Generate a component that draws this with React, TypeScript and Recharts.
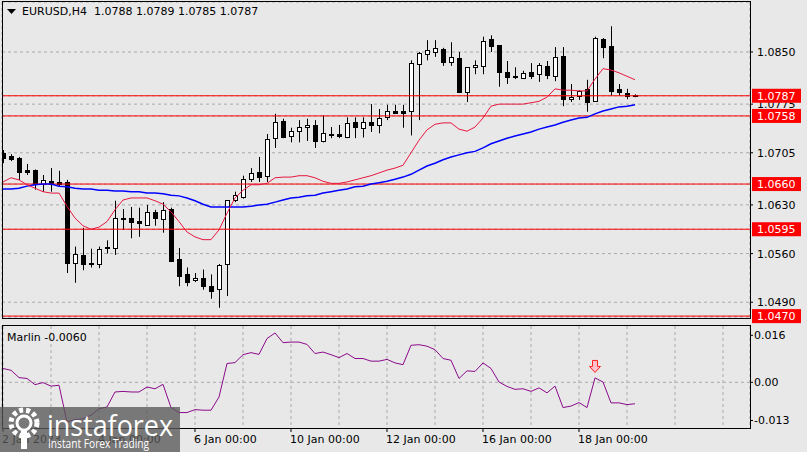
import React from 'react';
import { ComposedChart, Bar, Line, Scatter, XAxis, YAxis, CartesianGrid, ReferenceLine } from 'recharts';

// EURUSD H4, 2 Jan 00:00 .. 19 Jan 04:00 (80 bars)
const opens = [
  1.0705, 1.07, 1.0697, 1.068, 1.068, 1.066, 1.0664, 1.0663, 1.0663, 1.0546,
  1.0558, 1.0546, 1.0545, 1.0568, 1.0568, 1.0611, 1.0611, 1.0607, 1.0601, 1.062,
  1.061, 1.0624, 1.0552, 1.053, 1.0522, 1.0525, 1.0513, 1.0509, 1.0545, 1.0637,
  1.0641, 1.0667, 1.0677, 1.0672, 1.0726, 1.0751, 1.0729, 1.0736, 1.0742, 1.0745,
  1.0722, 1.0731, 1.0732, 1.0727, 1.0749, 1.0741, 1.0749, 1.0745, 1.0756, 1.0765,
  1.0765, 1.0765, 1.0833, 1.0847, 1.085, 1.0854, 1.0836, 1.0841, 1.0792, 1.0828,
  1.083, 1.0869, 1.086, 1.0821, 1.0815, 1.0813, 1.0821, 1.0818, 1.083, 1.0815,
  1.0844, 1.0782, 1.0787, 1.0797, 1.0779, 1.0869, 1.0859, 1.0797, 1.0791, 1.0788,
];
const highs = [
  1.0709, 1.0703, 1.0699, 1.0689, 1.0681, 1.0673, 1.0683, 1.0679, 1.0666, 1.057,
  1.0597, 1.0567, 1.057, 1.0579, 1.0636, 1.0624, 1.0627, 1.0626, 1.063, 1.0623,
  1.0634, 1.0626, 1.0568, 1.054, 1.0532, 1.0537, 1.053, 1.0545, 1.0637, 1.0649,
  1.0672, 1.0683, 1.0699, 1.0732, 1.0761, 1.0754, 1.0741, 1.0752, 1.0754, 1.0752,
  1.0759, 1.0742, 1.0745, 1.0756, 1.0756, 1.0756, 1.0775, 1.0768, 1.0774, 1.0774,
  1.0774, 1.0838, 1.085, 1.0867, 1.0867, 1.0856, 1.0864, 1.085, 1.0828, 1.0838,
  1.0872, 1.0874, 1.086, 1.0837, 1.0828, 1.0823, 1.0834, 1.0834, 1.0837, 1.0857,
  1.0857, 1.0804, 1.0795, 1.081, 1.0872, 1.087, 1.0887, 1.0804, 1.0797, 1.0789,
];
const lows = [
  1.069, 1.0693, 1.0666, 1.0673, 1.0652, 1.0649, 1.0649, 1.0656, 1.0532, 1.0518,
  1.0536, 1.054, 1.0539, 1.056, 1.0558, 1.0594, 1.0582, 1.0584, 1.06, 1.06,
  1.059, 1.0548, 1.0513, 1.0513, 1.0519, 1.0508, 1.0495, 1.0482, 1.0499, 1.0634,
  1.0639, 1.0663, 1.0663, 1.0663, 1.0712, 1.0726, 1.072, 1.072, 1.0722, 1.0712,
  1.072, 1.0726, 1.0726, 1.0726, 1.0726, 1.0727, 1.0735, 1.0733, 1.0752, 1.0761,
  1.0741, 1.073, 1.0752, 1.0838, 1.0843, 1.083, 1.083, 1.0791, 1.0778, 1.0818,
  1.0818, 1.085, 1.08, 1.0804, 1.0811, 1.0811, 1.0811, 1.0807, 1.0811, 1.0808,
  1.0772, 1.0778, 1.0781, 1.0764, 1.0778, 1.0841, 1.0787, 1.0787, 1.0782, 1.0785,
];
const closes = [
  1.0697, 1.0696, 1.0677, 1.0677, 1.066, 1.0666, 1.066, 1.066, 1.0546, 1.056,
  1.0545, 1.0545, 1.0567, 1.0569, 1.0611, 1.061, 1.0606, 1.0604, 1.062, 1.0611,
  1.0623, 1.0549, 1.0528, 1.0519, 1.0525, 1.0513, 1.0506, 1.0543, 1.0637, 1.0644,
  1.0667, 1.0676, 1.067, 1.0725, 1.0749, 1.0727, 1.0736, 1.0742, 1.0745, 1.0722,
  1.0733, 1.0732, 1.0729, 1.0748, 1.0742, 1.0749, 1.0745, 1.0755, 1.0765, 1.0762,
  1.0762, 1.0834, 1.0849, 1.0853, 1.0856, 1.0836, 1.0843, 1.0792, 1.0828, 1.0831,
  1.0866, 1.0859, 1.0821, 1.0814, 1.0814, 1.082, 1.0815, 1.0831, 1.0817, 1.0843,
  1.0782, 1.0785, 1.0794, 1.0778, 1.087, 1.0857, 1.0794, 1.0792, 1.0787, 1.0787,
];
// red moving average
const maFast = [
  1.0663, 1.0669, 1.0666, 1.0659, 1.0654, 1.0649, 1.0647, 1.0647, 1.0628, 1.0611,
  1.06, 1.0595, 1.0598, 1.0606, 1.0623, 1.0637, 1.064, 1.064, 1.064, 1.0636,
  1.0631, 1.062, 1.0606, 1.0591, 1.0584, 1.058, 1.058, 1.0594, 1.0618, 1.064,
  1.0651, 1.0659, 1.0659, 1.0661, 1.0669, 1.067, 1.067, 1.0672, 1.0672, 1.0669,
  1.0664, 1.0661, 1.0661, 1.0663, 1.0666, 1.0669, 1.0672, 1.0676, 1.068, 1.0683,
  1.0687, 1.0705, 1.0723, 1.0738, 1.0746, 1.0748, 1.0748, 1.0739, 1.0736, 1.0742,
  1.0755, 1.0772, 1.0775, 1.0775, 1.0775, 1.0775, 1.0777, 1.0779, 1.0785, 1.0797,
  1.0795, 1.0795, 1.0794, 1.0794, 1.0811, 1.0826, 1.0824, 1.082, 1.0815, 1.081,
];
// blue moving average
const maSlow = [
  1.0653, 1.0653, 1.0654, 1.0657, 1.0659, 1.066, 1.066, 1.0657, 1.0656, 1.0654,
  1.0653, 1.0653, 1.0651, 1.0651, 1.065, 1.065, 1.0649, 1.0649, 1.0647, 1.0647,
  1.0646, 1.0644, 1.0643, 1.064, 1.0636, 1.0631, 1.0627, 1.0627, 1.0627, 1.0627,
  1.0627, 1.0628, 1.063, 1.0631, 1.0634, 1.0637, 1.064, 1.0641, 1.0643, 1.0644,
  1.0647, 1.0649, 1.0651, 1.0653, 1.0656, 1.0657, 1.066, 1.0662, 1.0664, 1.0667,
  1.067, 1.0674, 1.068, 1.0686, 1.069, 1.0695, 1.0699, 1.0702, 1.0705, 1.0707,
  1.0712, 1.0718, 1.0722, 1.0726, 1.0729, 1.0732, 1.0735, 1.0739, 1.0742, 1.0745,
  1.0749, 1.0752, 1.0755, 1.0756, 1.0761, 1.0765, 1.0768, 1.0771, 1.0772, 1.0774,
];
const marlin = [
  0.0047, 0.0041, 0.0016, 0.0013, -0.0008, -0.0001, -0.0013, -0.001, -0.0135, -0.0127,
  -0.0124, -0.0112, -0.009, -0.0084, -0.0033, -0.0031, -0.0033, -0.0033, -0.0016, -0.0022,
  -0.0007, -0.0086, -0.0103, -0.0103, -0.0093, -0.0095, -0.0095, -0.005, 0.0064, 0.0067,
  0.0094, 0.0101, 0.0095, 0.0149, 0.0168, 0.0135, 0.0137, 0.0137, 0.0129, 0.0098,
  0.0103, 0.0094, 0.0084, 0.0098, 0.0081, 0.0081, 0.0072, 0.0072, 0.0078, 0.0066,
  0.006, 0.0126, 0.0128, 0.0123, 0.0111, 0.0081, 0.0075, 0.0013, 0.0039, 0.0037,
  0.0066, 0.0047, 0.0001, -0.0014, -0.0024, -0.0022, -0.0031, -0.0019, -0.0036, -0.0013,
  -0.0086, -0.0081, -0.0069, -0.0086, 0.0015, 0.0001, -0.007, -0.007, -0.0076, -0.0073,
];
const marlinLast = -0.006;

const levels = [1.0787, 1.0758, 1.066, 1.0595, 1.047];
const priceTicks = [1.085, 1.0775, 1.0705, 1.063, 1.056, 1.049];
const marlinTicks = [0.016, 0, -0.013];
const marlinTickLabels = ['0.016', '0.00', '-0.013'];
const dateTickIdx = [0, 12, 24, 36, 48, 60, 72];
const dateTickLabels = ['2 Jan 2023', '4 Jan 00:00', '6 Jan 00:00', '10 Jan 00:00', '12 Jan 00:00', '16 Jan 00:00', '18 Jan 00:00'];
const gridIdx = [0, 6, 12, 18, 24, 30, 36, 42, 48, 54, 60, 66, 72, 78, 84, 90];
const signalIdx = [74];
const signalVal = [0.0054];

const xDomain = [-0.125, 93.375];
const priceDomain = [1.04673, 1.09219];
const marlinDomain = [-0.01556, 0.01917];

const FONT = '"DejaVu Sans", Verdana, sans-serif';
const BG = '#e8e8e8';
const GRID = '#a9a9a9';

function Candle(props: any) {
  const { x, y, width, height, payload } = props;
  if (!payload) return <g />;
  const { open, close, high, low } = payload;
  const top0 = Math.min(y, y + height);
  const h = Math.abs(height);
  const k = h / (high - low || 1);
  const cx = Math.round(x + width / 2) + 0.5;
  const yO = top0 + (high - open) * k;
  const yC = top0 + (high - close) * k;
  const bt = Math.round(Math.min(yO, yC)) + 0.5;
  const bb = Math.max(Math.round(Math.max(yO, yC)) + 0.5, bt + 1);
  const up = close >= open;
  return (
    <g>
      <line x1={cx} x2={cx} y1={top0} y2={top0 + h} stroke="#000" strokeWidth={1} />
      <rect x={cx - 2} y={bt} width={4} height={bb - bt} fill={up ? '#fff' : '#000'} stroke="#000" strokeWidth={1} />
    </g>
  );
}

function PriceTick(props: any) {
  const { x, y, payload } = props;
  const v = payload.value;
  const ax = x - 7;
  if (levels.includes(v)) {
    return (
      <g>
        <rect x={ax + 2} y={y - 7} width={49} height={14} fill="#ff0000" />
        <text x={x} y={y + 4} fill="#fff" fontSize={11} fontFamily={FONT}>{v.toFixed(4)}</text>
      </g>
    );
  }
  return (
    <g>
      <line x1={ax} x2={ax + 3} y1={y} y2={y} stroke="#000" />
      <text x={x} y={y + 4} fill="#000" fontSize={11} fontFamily={FONT}>{v.toFixed(4)}</text>
    </g>
  );
}

function MarlinTick(props: any) {
  const { x, y, payload } = props;
  const k = marlinTicks.indexOf(payload.value);
  const ax = x - 4;
  return (
    <g>
      <line x1={ax} x2={ax + 3} y1={y} y2={y} stroke="#000" />
      <text x={x} y={y + 4} fill="#000" fontSize={11} fontFamily={FONT}>{marlinTickLabels[k]}</text>
    </g>
  );
}

function DateTick(props: any) {
  const { x, y, payload } = props;
  const k = dateTickIdx.indexOf(payload.value);
  if (k < 0) return <g />;
  return (
    <g>
      <line x1={x} x2={x} y1={y - 6} y2={y - 2} stroke="#000" />
      <text x={x - 1} y={y + 9} fill="#000" fontSize={11} fontFamily={FONT}>{dateTickLabels[k]}</text>
    </g>
  );
}

function SignalArrow(props: any) {
  const { cx, cy } = props;
  if (cx == null) return <g />;
  const pts = [
    [cx - 2.5, cy - 6], [cx + 2.5, cy - 6], [cx + 2.5, cy], [cx + 5.5, cy],
    [cx, cy + 6], [cx - 5.5, cy], [cx - 2.5, cy],
  ].map((p) => p.join(',')).join(' ');
  return <polygon points={pts} fill="#ffc0cb" stroke="#ff2020" strokeWidth={1} />;
}

export default function App() {
  const rows = opens.map((o, i) => ({
    i,
    open: o,
    high: highs[i],
    low: lows[i],
    close: closes[i],
    fast: maFast[i],
    slow: maSlow[i],
    marlin: marlin[i],
  }));
  const signals = signalIdx.map((i, k) => ({ i, v: signalVal[k] }));
  const last = rows[rows.length - 1];
  const header = `EURUSD,H4  ${last.open.toFixed(4)} ${last.high.toFixed(4)} ${last.low.toFixed(4)} ${last.close.toFixed(4)}`;

  return (
    <div style={{ position: 'absolute', left: 0, top: 0, width: 807, height: 452, background: BG, overflow: 'hidden', fontFamily: FONT }}>
      {/* price pane */}
      <div style={{ position: 'absolute', left: 0, top: 0 }}>
        <ComposedChart width={807} height={452} data={rows} margin={{ top: 2, right: 0, bottom: 134, left: 2 }}>
          <CartesianGrid stroke={GRID} strokeDasharray="3 3" />
          <XAxis type="number" dataKey="i" domain={xDomain} ticks={gridIdx} allowDataOverflow interval={0}
            height={0} tick={false} tickLine={false} axisLine={false} />
          <YAxis orientation="right" type="number" domain={priceDomain} allowDataOverflow
            ticks={[...priceTicks, ...levels]} interval={0} width={57} tickSize={4} tickMargin={3}
            tickLine={false} axisLine={false} tick={(p: any) => <PriceTick {...p} />} />
          {levels.map((l) => (
            <ReferenceLine key={l} y={l} stroke="#ff0000" strokeWidth={1} />
          ))}
          <Bar dataKey={(d: any) => [d.low, d.high]} barSize={5} isAnimationActive={false}
            shape={(p: any) => <Candle {...p} />} />
          <Line dataKey="slow" type="linear" stroke="#0000ff" strokeWidth={1.5} dot={false} isAnimationActive={false} />
          <Line dataKey="fast" type="linear" stroke="#e8173f" strokeWidth={1} dot={false} isAnimationActive={false} />
        </ComposedChart>
      </div>

      {/* indicator pane */}
      <div style={{ position: 'absolute', left: 0, top: 0 }}>
        <ComposedChart width={807} height={452} data={rows} margin={{ top: 326, right: 0, bottom: 0, left: 2 }}>
          <CartesianGrid stroke={GRID} strokeDasharray="3 3" horizontal={false} />
          <XAxis type="number" dataKey="i" domain={xDomain} ticks={gridIdx} allowDataOverflow interval={0}
            height={24} tickSize={4} tickMargin={2} tickLine={false} axisLine={false}
            tick={(p: any) => <DateTick {...p} />} />
          <YAxis orientation="right" type="number" domain={marlinDomain} allowDataOverflow
            ticks={marlinTicks} interval={0} width={57} tickSize={2} tickMargin={2}
            tickLine={false} axisLine={false} tick={(p: any) => <MarlinTick {...p} />} />
          <ReferenceLine y={0} stroke={GRID} strokeDasharray="3 3" />
          <Line dataKey="marlin" type="linear" stroke="#8b0a8b" strokeWidth={1} dot={false} isAnimationActive={false} />
          <Scatter data={signals} dataKey="v" isAnimationActive={false} shape={(p: any) => <SignalArrow {...p} />} />
        </ComposedChart>
      </div>

      {/* pane borders */}
      <div style={{ position: 'absolute', left: 2, top: 1, width: 749, height: 318, border: '1px solid #000', boxSizing: 'border-box', pointerEvents: 'none' }} />
      <div style={{ position: 'absolute', left: 2, top: 325, width: 749, height: 104, border: '1px solid #000', boxSizing: 'border-box', pointerEvents: 'none' }} />

      {/* header */}
      <svg style={{ position: 'absolute', left: 7, top: 9 }} width={9} height={6}>
        <polygon points="0,0 9,0 4.5,5" fill="#000" />
      </svg>
      <div style={{ position: 'absolute', left: 22, top: 5, fontSize: 11, color: '#000', whiteSpace: 'pre' }}>{header}</div>
      <div style={{ position: 'absolute', left: 7, top: 331, fontSize: 11, color: '#000', whiteSpace: 'pre' }}>{`Marlin ${marlinLast.toFixed(4)}`}</div>

      {/* watermark */}
      <svg style={{ position: 'absolute', left: 0, top: 407 }} width={180} height={45}>
        <rect width={180} height={45} fill="rgba(88,88,88,0.78)" />
        <circle cx={24} cy={16} r={13} fill="none" stroke="#fff" strokeWidth={5} strokeDasharray="4 3" />
        <circle cx={24} cy={16} r={7} fill="none" stroke="#fff" strokeWidth={3} />
        <rect x={21} y={24} width={6} height={18} fill="#fff" />
        <text x={47} y={29} fill="#fff" fontSize={30} fontFamily='"Open Sans", sans-serif' textLength={126} lengthAdjust="spacingAndGlyphs">instaforex</text>
        <text x={48} y={41} fill="#fff" fontSize={12} fontFamily='"Open Sans", sans-serif' textLength={101} lengthAdjust="spacingAndGlyphs">Instant Forex Trading</text>
      </svg>
    </div>
  );
}
